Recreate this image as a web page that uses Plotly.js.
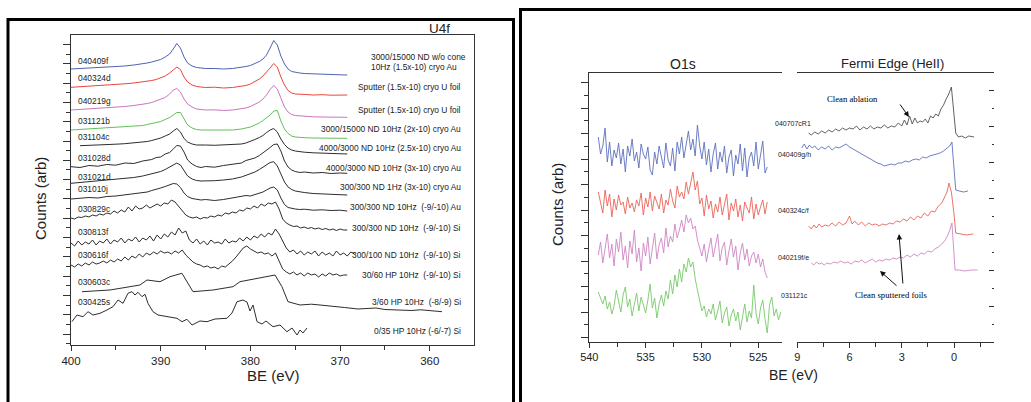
<!DOCTYPE html>
<html><head><meta charset="utf-8">
<script src="https://cdn.plot.ly/plotly-3.0.1.min.js"></script>
<style>html,body{margin:0;padding:0;background:#fff;}#chart{width:1031px;height:402px;}</style>
</head><body><div id="chart"></div>
<script>
// ---------------- U4f panel data (BE in eV, counts arb, traces offset as in the figure) ----------------
const u4f_be_a = [400,399,398,397,396,395,394,393,392,391.5,391,390.5,390,389.5,389,388.6,388.2,387.8,387.4,387,386.5,386,385.5,385,384,383,382,381,380.5,380,379.5,379,378.6,378.2,377.8,377.4,377,376.6,376.2,375.8,375.4,375,374.5,374,373,372,371,370,369.2];
const u4f_040409f = [276,276.5,276.3,277,277.5,278,279,280,281,282,283,284,285.5,288,291,296,301.5,297,288,282,279,277.5,277,276.5,276.5,276,276.5,277.5,278.5,279.5,281.5,283.5,286,290,297,304.5,300,289,281,276,273.5,272.5,272,271.5,271,270.8,270.5,270.2,270];
const u4f_040324d = [257.7,258.3,258.2,259,259.6,260,261.2,262,263,263.5,264.5,265.5,267,269,272,275,278,275.5,268,263,260,258.5,258,257.5,257.8,257,257.5,258.5,259.5,261,263.5,266,269,272.5,277,281.5,278,268,260,254.5,252,251,250.5,250.6,250,250.3,249.8,250,250];
const u4f_040219g = [235,235.6,236,236.4,237.2,237.5,238.5,239.5,240.5,241.5,242.5,244,245.5,247.5,251,255,256.5,253,246,241,238,236,235.5,235,235.2,234.5,235,236,237,238.5,240.5,243,246,250,255.5,259.5,256,246,238,233,230.5,229.5,229,228.5,228.2,228,227.7,227.9,227.7];
const u4f_031121b = [215,215.5,216,216.5,217,217.5,218,218.7,219.5,220.5,221.5,222.5,223.5,225.5,227.5,230,232.5,232.5,226,220,217,215.5,215,215,214.7,215,215,216,217,218,220,222,224.5,227,230,234,234.5,224,216,211.5,209,208,207.5,207.3,207,206.8,206.7,206.5,206.7];
const u4f_031104c = [null,199.3,199.5,200,200.5,200.8,201.3,202,203,203.5,204.5,205.5,207,209,211,214,216.5,213,206.5,203,201,200,199.7,200,199.7,200,200.3,201,202,203.5,205.5,207.5,209.5,212.5,215,216.5,213,206,200.5,197,195,194,193.3,192.8,192.2,191.8,191.5,191.2,191];
const u4f_031028d = [178.3,177.5,179.5,178.8,180.5,179.8,182,181.5,184,184.5,185.5,187.5,188,191,192.5,196,199.5,199,193,185,181,178.5,177.5,178.5,177.8,179.5,180.5,182,184.5,185.5,187,189.5,192,194.5,197.5,200.5,201,194,184,178,175,173.5,172.5,173,172,172.5,171.5,172,171.7];
const u4f_031021d = [161.7,162.5,163,164,164.5,165.5,166.5,167.5,169,170,171,172,173.5,175.5,178,180.5,182,180,174.5,169,166,164.5,164,164,164.3,165,166,168,169.5,171,173,175.5,178,180.5,182.5,183.3,179,171,163,158,155.5,154,153,152.5,151.5,151,150.5,150.3,150];
const u4f_031010j = [146,146.5,147.5,147,148.5,149,150,151.5,152.5,153,154.5,155.5,157,158.5,160,161.5,161,157.5,152,148.5,146.5,145.5,145,145.5,144.5,145.5,147,148,149.5,149,150.5,151.5,153,155,157,158,155,147,140.5,137.5,136.5,136,135.5,135.8,134.8,135.2,134.5,134.8,134];

const u4f_be_b = [400.0,399.6,399.2,398.8,398.4,398.0,397.6,397.2,396.8,396.4,
 396.0,395.6,395.2,394.8,394.4,394.0,393.6,393.2,392.8,392.4,
 392.0,391.6,391.2,390.8,390.4,390.0,389.6,389.2,388.8,388.4,
 388.0,387.6,387.2,386.8,386.4,386.0,385.6,385.2,384.8,384.4,
 384.0,383.6,383.2,382.8,382.4,382.0,381.6,381.2,380.8,380.4,
 380.0,379.6,379.2,378.8,378.4,378.0,377.6,377.2,376.8,376.4,
 376.0,375.6,375.2,374.8,374.4,374.0,373.6,373.2,372.8,372.4,
 372.0,371.6,371.2,370.8,370.4,370.0,369.6,369.2,368.8,368.4];
const u4f_030829c = [127,126,128,127.5,129,128,130,129,131,130,
 132,131,134,132,135,133,138,134,139,136,
 137,140,137,139,141,139,142,141,145,143,
 139,134,130,128,127,128,126,127.5,127,129,
 128,130,129,132,131,133,132,135,134,137,
 136,139,137,141,139,142,141,143,136,126,
 122,120,118.5,119,117,118,116.5,117.5,116,117,
 115.5,116.5,115,116,114.5,116,115,115,null,null];
const u4f_030813f = [102,99,104,100,103,101,105,100,104,102,
 106,101,105,103,107,102,106,104,108,103,
 107,105,109,104,110,106,111,108,113,110,
 117,112,114,105,102,106,101,104,100,105,
 102,103,101,106,102,104,103,107,104,108,
 105,109,107,111,108,112,110,116,111,104,
 97,93,95,91,94,90,93,91,94,89,
 93,90,92,89,94,90,92,89,93,91];
const u4f_030616f = [80,78,81,79,82,80,83,81,82,84,
 82,85,83,86,84,88,85,89,87,91,
 88,92,90,93,91,94,92,93,91,94,
 92,95,90,86,83,81,80,78,79,77,
 78,76,79,78,81,84,88,93,97,99,
 96,94,92,93,91,92,89,92,84,76,
 73,71,73,70,72,69,72,70,71,68,
 71,69,72,70,71,69,70,70,null,null];
const u4f_030603c_be = [398.77,395.65,392.31,391.53,390.08,388.96,387.63,386.4,384.17,381.94,381.16,378.93,377.26,376.48,375.81,374.47,373.2,372.24,370.79,369.5,368.0,367.0,366.0,365.0,363.32,362.0,361.0,358.64];
const u4f_030603c = [53.3,55,60,65,63.3,68.3,71.7,53.3,55,58.3,63.3,66.7,70,58.3,43.3,40,40.8,40,38.3,37.5,36,36.7,37,35.5,35,34.5,35.2,33.3];
const u4f_030425s_be = [399.9,399.33,398.66,398.1,397.55,396.77,395.99,395.32,394.76,394.2,393.65,393.2,392.87,392.53,392.08,391.75,391.42,390.86,390.3,389.3,388.18,387.63,387.07,386.51,385.62,384.84,383.95,382.61,382.05,381.49,380.83,380.38,380.04,379.71,379.26,378.71,378.26,377.48,376.7,375.92,375.36,374.8,374.47,374.14,373.69];
const u4f_030425s = [23.3,30,28.3,33.3,30,31.7,35,38.3,45,41.7,51.7,53.3,50,52.7,48.3,50.7,41.7,33.3,30,28.3,26.7,23.3,25.7,20,24,23.3,26,26.7,32,43.3,45,43,34,40,23.3,21,24,18.3,20,13.3,17,10,15,12,17];

const u4f_ids = ["040409f","040324d","040219g","031121b","031104c","031028d","031021d","031010j","030829c","030813f","030616f","030603c","030425s"];
const u4f_desc = ["Sputter (1.5x-10) cryo U foil","Sputter (1.5x-10) cryo U foil","3000/15000 ND 10Hz (2x-10) cryo Au","4000/3000 ND 10Hz (2.5x-10) cryo Au","4000/3000 ND 10Hz (3x-10) cryo Au","300/300 ND 1Hz (3x-10) cryo Au","300/300 ND 10Hz \u00a0(-9/-10) Au","300/300 ND 10Hz \u00a0(-9/-10) Si","300/100 ND 10Hz \u00a0(-9/-10) Si","30/60 HP 10Hz \u00a0(-9/-10) Si","3/60 HP 10Hz \u00a0(-8/-9) Si","0/35 HP 10Hz (-6/-7) Si"];
const u4f_desc_first = ["3000/15000 ND w/o cone","10Hz (1.5x-10) cryo Au"];

// ---------------- O1s panel data ----------------
const o1s_be = [539.2,539.0,538.8,538.6,538.4,538.2,538.0,537.8,537.6,537.4,
 537.2,537.0,536.8,536.6,536.4,536.2,536.0,535.8,535.6,535.4,
 535.2,535.0,534.8,534.6,534.4,534.2,534.0,533.8,533.6,533.4,
 533.2,533.0,532.8,532.6,532.4,532.2,532.0,531.8,531.6,531.4,
 531.2,531.0,530.8,530.6,530.4,530.2,530.0,529.8,529.6,529.4,
 529.2,529.0,528.8,528.6,528.4,528.2,528.0,527.8,527.6,527.4,
 527.2,527.0,526.8,526.6,526.4,526.2,526.0,525.8,525.6,525.4,
 525.2,525.0,524.8,524.6,524.4,524.2];
const o1s_be_long = [539.2,539.0,538.8,538.6,538.4,538.2,538.0,537.8,537.6,537.4,
 537.2,537.0,536.8,536.6,536.4,536.2,536.0,535.8,535.6,535.4,
 535.2,535.0,534.8,534.6,534.4,534.2,534.0,533.8,533.6,533.4,
 533.2,533.0,532.8,532.6,532.4,532.2,532.0,531.8,531.6,531.4,
 531.2,531.0,530.8,530.6,530.4,530.2,530.0,529.8,529.6,529.4,
 529.2,529.0,528.8,528.6,528.4,528.2,528.0,527.8,527.6,527.4,
 527.2,527.0,526.8,526.6,526.4,526.2,526.0,525.8,525.6,525.4,
 525.2,525.0,524.8,524.6,524.4,524.2,524.0,523.8,523.6,523.4,
 523.2,523.0];
const o1s_040409gh = [205,188,196,214,180,200,176,192,184,199,
 178,193,170,196,186,203,181,190,174,198,
 188,183,195,172,167,190,178,196,185,174,
 199,182,176,194,171,200,188,205,184,197,
 211,192,203,186,217,196,183,200,177,193,
 170,188,199,173,190,180,196,169,185,192,
 166,187,178,198,171,194,165,184,190,176,
 200,173,187,201,169,175];
const o1s_040324cf = [150,138,129,152,136,148,125,143,132,147,
 137,140,128,145,134,139,130,142,136,149,
 127,144,135,150,131,146,140,133,148,129,
 142,137,153,141,134,156,145,150,143,160,
 148,158,170,152,161,138,144,126,147,133,
 141,124,138,130,145,127,136,148,122,139,
 131,143,125,137,121,140,134,129,145,123,
 138,127,135,142,128,140];
const o1s_040219fe = [87,100,79,95,108,84,98,76,103,90,
 110,82,96,74,101,88,112,80,94,71,
 99,86,105,78,93,109,83,97,104,89,
 114,95,106,100,118,104,112,122,110,127,
 119,124,113,116,102,95,86,98,80,93,
 104,85,97,108,81,94,100,77,91,103,
 85,96,72,89,99,82,93,76,86,90,
 79,88,75,83,70,64];
const o1s_031121c = [50,44,38,46,33,40,28,36,52,41,
 30,47,55,35,43,26,39,49,31,45,
 37,29,42,58,34,44,24,38,47,36,
 51,43,62,48,67,55,73,60,78,70,
 84,75,80,63,52,40,31,36,25,33,
 28,38,22,31,41,19,29,35,16,27,
 33,21,30,12,26,38,20,31,24,57,
 29,18,34,42,23,9,37,45,26,33,
 22,30];

// ---------------- Fermi edge panel data ----------------
const fe_040707cR1_be = [8.35,8.2,8.0,7.8,7.6,7.4,7.2,7.0,6.8,6.6,6.4,6.2,6.0,5.8,5.6,5.4,5.2,5.0,4.8,4.6,4.4,4.2,4.0,3.8,3.6,3.4,3.2,3.0,2.85,2.7,2.55,2.4,2.25,2.1,1.95,1.8,1.65,1.5,1.35,1.2,1.05,0.9,0.75,0.6,0.45,0.3,0.15,0.0,-0.1,-0.25,-0.45,-0.65,-0.85,-1.15];
const fe_040707cR1 = [209,207,210,208,211,209,212,210,213,211,214,212,214,213,216,212,215,213,216,213,215,214,217,214,216,215,219,216,222,217,226,218,224,219,221,220,223,219,226,224,228,226,233,237,243,248,255,230,209,205,206,204,206,205];
const fe_040409gh_be = [8.75,8.6,8.45,8.3,8.15,8.0,7.8,7.6,7.4,7.2,7.0,6.8,6.6,6.4,6.2,6.0,5.8,5.6,5.4,5.2,5.0,4.8,4.6,4.4,4.2,4.0,3.8,3.6,3.4,3.2,3.0,2.8,2.6,2.4,2.2,2.0,1.8,1.6,1.4,1.2,1.0,0.8,0.6,0.4,0.25,0.12,0.0,-0.1,-0.3,-0.55,-0.8];
const fe_040409gh = [194,198,193,197,194,196,192,195,193,196,192,195,194,196,198,195,193,191,189,187,185,183,181,179,178,176,177,178,177,179,179,181,180,182,183,182,185,184,186,187,188,189,191,194,196,200,178,152,151,150,151];
const fe_040324cf_be = [8.35,8.2,8.05,7.9,7.75,7.6,7.4,7.2,7.0,6.8,6.6,6.4,6.2,6.0,5.85,5.7,5.5,5.3,5.1,4.9,4.7,4.5,4.3,4.1,3.9,3.7,3.5,3.3,3.1,2.9,2.7,2.5,2.3,2.1,1.9,1.7,1.5,1.3,1.1,0.9,0.7,0.55,0.4,0.29,0.15,0.0,-0.1,-0.4,-0.7,-1.1];
const fe_040324cf = [116,113,117,114,118,115,117,116,119,116,120,117,119,126,118,121,117,120,116,119,117,118,116,118,117,119,118,121,120,123,121,125,122,126,124,129,126,131,130,136,139,145,150,159,150,128,109,108,107,108];
const fe_040219fe_be = [8.2,8.05,7.9,7.75,7.6,7.45,7.3,7.1,6.9,6.7,6.5,6.3,6.1,5.9,5.7,5.5,5.3,5.1,4.9,4.7,4.5,4.3,4.1,3.9,3.7,3.5,3.3,3.1,2.9,2.7,2.5,2.3,2.1,1.9,1.7,1.5,1.3,1.1,0.9,0.7,0.5,0.35,0.22,0.12,0.03,-0.06,-0.3,-0.6,-1.0,-1.35];
const fe_040219fe = [79,77,80,78,79,77,79,78,80,79,81,79,80,78,81,80,82,79,81,83,80,82,81,83,82,84,83,85,84,87,85,88,86,89,88,91,90,93,95,98,102,107,113,119,96,72,72,71,72,72];
const right_ids = ["040707cR1","040409g/h","040324c/f","040219f/e","031121c"];

// ---------------- build ----------------
const W = 1031, H = 402;
const px = v => v / W, py = v => 1 - v / H;
const C = {blue:'rgb(78,98,178)', red:'rgb(232,70,60)', pink:'rgb(200,118,190)', green:'rgb(98,192,88)', black:'rgb(45,45,45)', gray:'rgb(80,80,80)'};
const C2 = {blue:'rgb(92,112,188)', red:'rgb(236,98,88)', pink:'rgb(206,132,196)', green:'rgb(118,202,104)'};
function tr(x, y, color, xa, ya, w) {
  return {type:'scatter', mode:'lines', x:x, y:y, xaxis:xa, yaxis:ya, connectgaps:false,
          line:{color:color, width:w || 1}, hoverinfo:'skip'};
}
const data = [
  tr(u4f_be_a, u4f_040409f, C.blue, 'x', 'y'),
  tr(u4f_be_a, u4f_040324d, C.red, 'x', 'y'),
  tr(u4f_be_a, u4f_040219g, C.pink, 'x', 'y'),
  tr(u4f_be_a, u4f_031121b, C.green, 'x', 'y'),
  tr(u4f_be_a, u4f_031104c, C.black, 'x', 'y'),
  tr(u4f_be_a, u4f_031028d, C.black, 'x', 'y'),
  tr(u4f_be_a, u4f_031021d, C.black, 'x', 'y'),
  tr(u4f_be_a, u4f_031010j, C.black, 'x', 'y'),
  tr(u4f_be_b, u4f_030829c, C.black, 'x', 'y'),
  tr(u4f_be_b, u4f_030813f, C.black, 'x', 'y'),
  tr(u4f_be_b, u4f_030616f, C.black, 'x', 'y'),
  tr(u4f_030603c_be, u4f_030603c, C.black, 'x', 'y'),
  tr(u4f_030425s_be, u4f_030425s, C.black, 'x', 'y'),
  tr(o1s_be, o1s_040409gh, C2.blue, 'x2', 'y2', 0.9),
  tr(o1s_be, o1s_040324cf, C2.red, 'x2', 'y2', 0.9),
  tr(o1s_be, o1s_040219fe, C2.pink, 'x2', 'y2', 0.9),
  tr(o1s_be_long, o1s_031121c, C2.green, 'x2', 'y2', 0.9),
  tr(fe_040707cR1_be, fe_040707cR1, C.gray, 'x3', 'y3', 0.9),
  tr(fe_040409gh_be, fe_040409gh, C2.blue, 'x3', 'y3', 0.9),
  tr(fe_040324cf_be, fe_040324cf, C2.red, 'x3', 'y3', 0.9),
  tr(fe_040219fe_be, fe_040219fe, C2.pink, 'x3', 'y3', 0.9)
];

const AX = '#333';
const FONT = 'Arial, "Liberation Sans", sans-serif';
const SERIF = 'Liberation Serif, Times New Roman, serif';
const ann = [];
function txt(text, x, y, size, anchor, extra) {
  ann.push(Object.assign({text:text, x:px(x), y:py(y), xref:'paper', yref:'paper', showarrow:false,
    xanchor:anchor || 'left', yanchor:'middle', font:{family:FONT, size:size, color:'#222'}}, extra || {}));
}
// left panel labels
const idY = [61,78,100.5,120.5,137,157.5,176.5,188.5,209,232,255,281.5,302];
u4f_ids.forEach((t, i) => txt(t, 75.5, idY[i], 8.4, 'left'));
txt(u4f_desc_first[0], 369, 57.5, 8.4, 'left');
txt(u4f_desc_first[1], 369, 67, 8.4, 'left');
const dY = [87.5,110,129.5,147.5,167.5,186.5,207.5,228,254.5,274.5,301.5,330.5];
u4f_desc.forEach((t, i) => txt(t, 463, dY[i], 8.4, 'right'));
txt('U4f', 439, 28.5, 13.5, 'center');
txt('Counts (arb)', 40, 199, 15, 'center', {textangle:-90});
txt('BE (eV)', 273, 375, 15, 'center');
// right panel labels
const rX = [773,776,776,776,779], rY = [124,155,210.5,257,295];
right_ids.forEach((t, i) => txt(t, rX[i], rY[i], 7, 'left'));
txt('O1s', 683, 64, 14, 'center');
txt('Fermi Edge (HeII)', 892, 63, 13, 'center');
txt('Counts (arb)', 558, 205, 15, 'center', {textangle:-90});
txt('BE (eV)', 793, 375, 14, 'center');
txt('Clean ablation', 852, 98.5, 8.7, 'center', {font:{family:SERIF, size:8.7, color:'#000000'}});
txt('Clean sputtered foils', 891.5, 295, 8.7, 'center', {font:{family:SERIF, size:8.7, color:'#000000'}});
function arrow(hx, hy, tx, ty) {
  ann.push({x:px(hx), y:py(hy), xref:'paper', yref:'paper', ax:tx - hx, ay:ty - hy, axref:'pixel', ayref:'pixel',
    text:'', showarrow:true, arrowhead:2, arrowsize:1.1, arrowwidth:1, arrowcolor:'#111'});
}
arrow(909, 117, 899, 103);
arrow(899, 234, 903, 285);
arrow(880, 271, 898, 287);

const shapes = [
  {type:'rect', xref:'paper', yref:'paper', x0:px(8), x1:px(513.5), y0:-0.05, y1:py(19.5), line:{color:'#000', width:3}, fillcolor:'rgba(0,0,0,0)'},
  {type:'rect', xref:'paper', yref:'paper', x0:px(520.5), x1:1.05, y0:-0.05, y1:py(9.5), line:{color:'#000', width:3}, fillcolor:'rgba(0,0,0,0)'}
];

const yTop2 = 73, yBot2 = 342;
const layout = {
  width:W, height:H, margin:{l:0, r:0, t:0, b:0}, paper_bgcolor:'#fff', plot_bgcolor:'rgba(0,0,0,0)',
  showlegend:false, font:{family:FONT, color:'#222'},
  xaxis:{domain:[px(71), px(474)], range:[400, 355.07], anchor:'y', showline:true, mirror:true, linecolor:AX, linewidth:1,
    ticks:'outside', ticklen:5, tickcolor:AX, tick0:0, dtick:10, minor:{dtick:5, tick0:0, ticks:'outside', ticklen:4, tickcolor:AX},
    showgrid:false, zeroline:false, tickfont:{size:11.5, color:'#222'}},
  yaxis:{domain:[py(345), py(35)], range:[0, 310], anchor:'x', showline:true, mirror:true, linecolor:AX, linewidth:1,
    ticks:'outside', ticklen:7, tickcolor:AX, tick0:11, dtick:19.3, minor:{dtick:9.65, tick0:11, ticks:'outside', ticklen:4, tickcolor:AX},
    showticklabels:false, showgrid:false, zeroline:false},
  xaxis2:{domain:[px(589.3), px(781.7)], range:[540, 522.92], anchor:'y2', showline:true, mirror:true, linecolor:AX, linewidth:1,
    ticks:'outside', ticklen:5, tickcolor:AX, tick0:0, dtick:5, minor:{dtick:2.5, tick0:0, ticks:'outside', ticklen:4, tickcolor:AX},
    showgrid:false, zeroline:false, tickfont:{size:11, color:'#222'}},
  yaxis2:{domain:[py(yBot2), py(yTop2)], range:[0, yBot2 - yTop2], anchor:'x2', showline:true, mirror:false, linecolor:AX, linewidth:1,
    ticks:'outside', ticklen:7, tickcolor:AX, tick0:4.3, dtick:25.5, minor:{dtick:12.75, tick0:4.3, ticks:'outside', ticklen:4, tickcolor:AX},
    showticklabels:false, showgrid:false, zeroline:false},
  xaxis3:{domain:[px(797.3), px(994)], range:[9, -2.297], anchor:'y3', showline:true, mirror:true, linecolor:AX, linewidth:1,
    ticks:'outside', ticklen:5, tickcolor:AX, tick0:0, dtick:3, minor:{dtick:1.5, tick0:0, ticks:'outside', ticklen:4, tickcolor:AX},
    showgrid:false, zeroline:false, tickfont:{size:11, color:'#222'}},
  yaxis3:{domain:[py(yBot2), py(yTop2)], range:[0, yBot2 - yTop2], anchor:'x3', side:'right', showline:false,
    ticks:'inside', ticklen:5, tickcolor:AX, tick0:0, dtick:36, minor:{dtick:18, tick0:0, ticks:'inside', ticklen:2, tickcolor:AX},
    showticklabels:false, showgrid:false, zeroline:false},
  annotations:ann, shapes:shapes
};
Plotly.newPlot('chart', data, layout, {staticPlot:true, displayModeBar:false});
</script></body></html>
